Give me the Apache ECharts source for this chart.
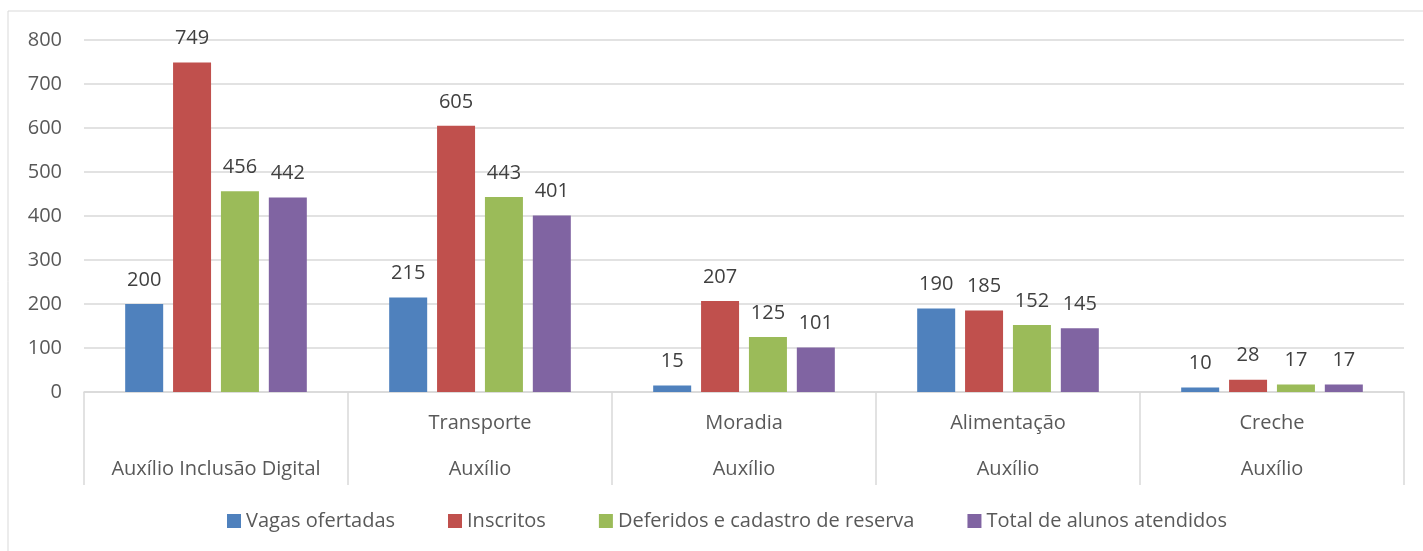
<!DOCTYPE html>
<html>
<head>
<meta charset="utf-8">
<script src="https://cdn.jsdelivr.net/npm/echarts@6/dist/echarts.min.js"></script>
<style>
  html, body { margin: 0; padding: 0; background: #fff; }
  #chart { width: 1423px; height: 551px; }
</style>
</head>
<body>
<div id="chart"></div>
<script>
// two-level category labels (top row / bottom row)
const topLabels = ["", "Transporte", "Moradia", "Alimentação", "Creche"];
const bottomLabels = ["Auxílio Inclusão Digital", "Auxílio", "Auxílio", "Auxílio", "Auxílio"];

const seriesNames = ["Vagas ofertadas", "Inscritos", "Deferidos e cadastro de reserva", "Total de alunos atendidos"];
const vagas = [200, 215, 15, 190, 10];
const inscritos = [749, 605, 207, 185, 28];
const deferidos = [456, 443, 125, 152, 17];
const atendidos = [442, 401, 101, 145, 17];
const colors = ["#4f81bd", "#c0504d", "#9bbb59", "#8064a2"];

const font = "'Open Sans', 'Noto Sans', sans-serif";
const fs = 20;
const myChart = echarts.init(document.getElementById("chart"));

const values = [vagas, inscritos, deferidos, atendidos];
myChart.setOption({
  animation: false,
  textStyle: { fontFamily: font },
  graphic: [{
    type: "rect",
    shape: { x: 8, y: 11, width: 1430, height: 560 },
    style: { fill: "none", stroke: "#d9d9d9", lineWidth: 1 },
    silent: true,
  }],
  grid: { left: 84, right: 19, top: 40, bottom: 159 },
  legend: {
    left: 222,
    top: 506,
    itemWidth: 14,
    itemHeight: 14,
    itemGap: 53,
    icon: "rect",
    textStyle: { fontSize: fs, color: "#595959", fontFamily: font },
    data: seriesNames,
  },
  xAxis: {
    type: "category",
    data: topLabels.map((t, i) => t + "\n" + bottomLabels[i]),
    axisLine: { lineStyle: { color: "#d9d9d9", width: 1.5 } },
    axisTick: { show: true, interval: 0, length: 93, lineStyle: { color: "#d9d9d9", width: 1.5 } },
    axisLabel: {
      interval: 0,
      margin: 8,
      fontSize: fs,
      lineHeight: 46,
      color: "#595959",
      fontFamily: font,
    },
  },
  yAxis: {
    type: "value",
    min: 0,
    max: 800,
    interval: 100,
    axisLine: { show: false },
    axisTick: { show: false },
    splitLine: { lineStyle: { color: "#d9d9d9", width: 1.5 } },
    axisLabel: { fontSize: fs, color: "#595959", margin: 22, fontFamily: font },
  },
  series: seriesNames.map((name, i) => ({
    name,
    type: "bar",
    data: values[i],
    barWidth: 38,
    barGap: "26%",
    itemStyle: { color: colors[i] },
    label: {
      show: true,
      position: "top",
      distance: 14,
      fontSize: fs,
      color: "#404040",
      fontFamily: font,
    },
  })),
});
</script>
</body>
</html>
